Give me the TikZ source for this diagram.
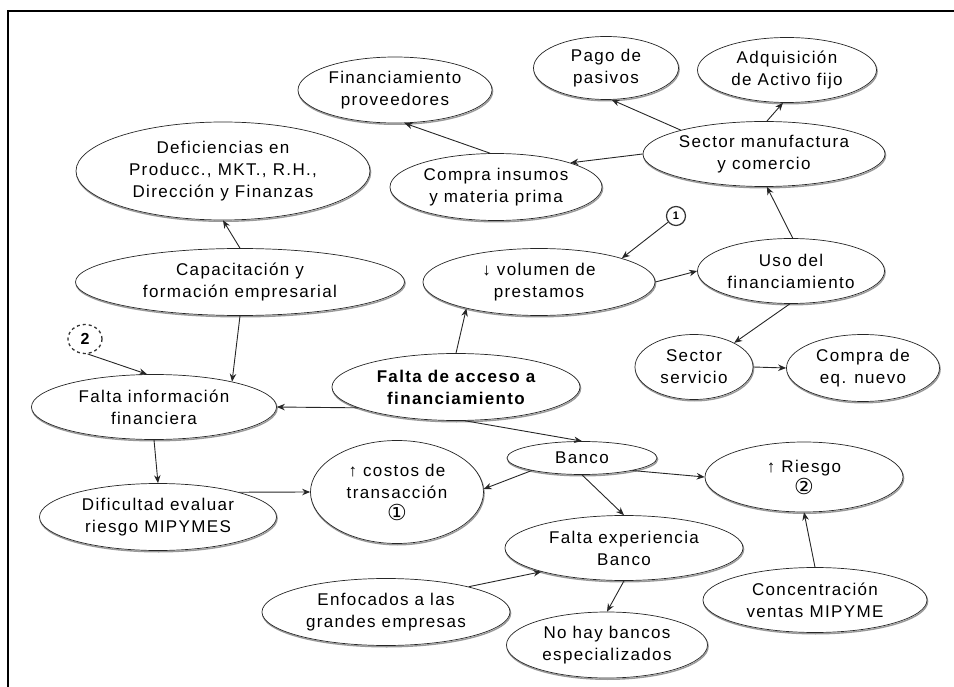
\documentclass[tikz,border=0pt]{standalone}
\usepackage{fontspec}
\setmainfont{Liberation Sans}[LetterSpace=8]
\newfontfamily\symf{DejaVu Sans}
\usetikzlibrary{shapes.geometric,arrows.meta}
\newcommand\cnum[1]{{\symf\fontsize{22}{22}\selectfont #1}}
\begin{document}
\begin{tikzpicture}[x=1pt,y=-1pt,
  el/.style={ellipse, draw=black!85, line width=0.7pt, fill=white, inner sep=0pt,
    align=center, font=\fontsize{17}{22}\selectfont,
    preaction={draw=black!40, line width=1.4pt, transform canvas={shift={(0.6pt,-1.3pt)}}}},
  ar/.style={draw=black!85, line width=0.9pt, -{Stealth[length=8pt,width=6.5pt]}},
]
\useasboundingbox (0,0) rectangle (954,687);
\draw[line width=1.6pt] (8,687) -- (8,11) -- (954,11);

\node[el, minimum width=194pt, minimum height=66pt] (fp) at (395,90) {Financiamiento\\proveedores};
\node[el, minimum width=145pt, minimum height=63pt] (pp) at (606,68) {Pago de\\pasivos};
\node[el, minimum width=179pt, minimum height=65pt] (af) at (787,70) {Adquisición\\de Activo fijo};
\node[el, minimum width=242pt, minimum height=65pt] (sm) at (764,154) {Sector manufactura\\y comercio};
\node[el, minimum width=212pt, minimum height=67pt] (ci) at (496,187) {Compra insumos\\y materia prima};
\node[el, minimum width=294pt, minimum height=98pt] (df) at (223,171) {Deficiencias en\\Producc., MKT., R.H.,\\Dirección y Finanzas};
\node[el, minimum width=329pt, minimum height=67pt] (cf) at (240,282) {Capacitación y\\formación empresarial};
\node[el, minimum width=232pt, minimum height=67pt] (vp) at (539,282) {↓ volumen de\\prestamos};
\node[el, minimum width=187pt, minimum height=65pt] (uf) at (791,271) {Uso del\\financiamiento};
\node[circle, draw=black!80, line width=1.2pt, minimum size=19pt, inner sep=0pt,
  font=\fontsize{11}{11}\selectfont\bfseries] (c1) at (676,216) {1};
\node[ellipse, draw=black!80, dashed, line width=1.3pt, minimum width=34pt, minimum height=29pt, inner sep=0pt,
  font=\fontsize{16}{16}\selectfont\bfseries] (c2) at (85,339) {2};
\node[el, minimum width=248pt, minimum height=67pt, font=\fontsize{17}{22}\selectfont\bfseries] (fa) at (456,387) {Falta de acceso a\\financiamiento};
\node[el, minimum width=245pt, minimum height=65pt] (fi) at (154,407) {Falta información\\financiera};
\node[el, minimum width=118pt, minimum height=65pt] (ss) at (694,367) {Sector\\servicio};
\node[el, minimum width=153pt, minimum height=67pt] (ce) at (863,368) {Compra de\\eq. nuevo};
\node[el, minimum width=150pt, minimum height=33pt] (bc) at (582,458) {Banco};
\node[el, minimum width=198pt, minimum height=70pt] (ri) at (804,477) {↑ Riesgo\\\cnum{②}};
\node[el, minimum width=173pt, minimum height=103pt] (ct) at (397,492) {↑ costos de\\transacción\\\cnum{①}};
\node[el, minimum width=237pt, minimum height=67pt] (de) at (158,517) {Dificultad evaluar\\riesgo MIPYMES};
\node[el, minimum width=238pt, minimum height=65pt] (fe) at (624,548) {Falta experiencia\\Banco};
\node[el, minimum width=248pt, minimum height=67pt] (eg) at (386,612) {Enfocados a las\\grandes empresas};
\node[el, minimum width=201pt, minimum height=66pt] (nb) at (607,645) {No hay bancos\\especializados};
\node[el, minimum width=224pt, minimum height=65pt] (cv) at (815,600) {Concentración\\ventas MIPYME};

\draw[ar] (sm.164) -- (pp.-80);
\draw[ar] (sm.85) -- (af.-97);
\draw[ar] (sm.180) -- (ci.18);
\draw[ar] (ci.100) -- (fp.-74);
\draw[ar] (uf.87) -- (sm.-85);
\draw[ar] (vp.0) -- (uf.180);
\draw[ar] (c1) -- (vp.16);
\draw[ar] (fa.90) -- (vp.200);
\draw[ar] (uf.268) -- (ss.31);
\draw[ar] (ss.0) -- (ce.180);
\draw[ar] (cf.north) -- (df.south);
\draw[ar] (cf.south) -- (fi.18);
\draw[ar] (c2.-80) -- (fi.102);
\draw[ar] (fa.192) -- (fi.0);
\draw[ar] (fa.-75) -- (bc.north);
\draw[ar] (fi.south) -- (de.north);
\draw[ar] (de.17) -- (ct.180);
\draw[ar] (bc.194) -- (ct.2);
\draw[ar] (bc.-14) -- (ri.180);
\draw[ar] (bc.south) -- (fe.north);
\draw[ar] (eg.17) -- (fe.196);
\draw[ar] (fe.south) -- (nb.north);
\draw[ar] (cv.north) -- (ri.south);
\end{tikzpicture}
\end{document}
